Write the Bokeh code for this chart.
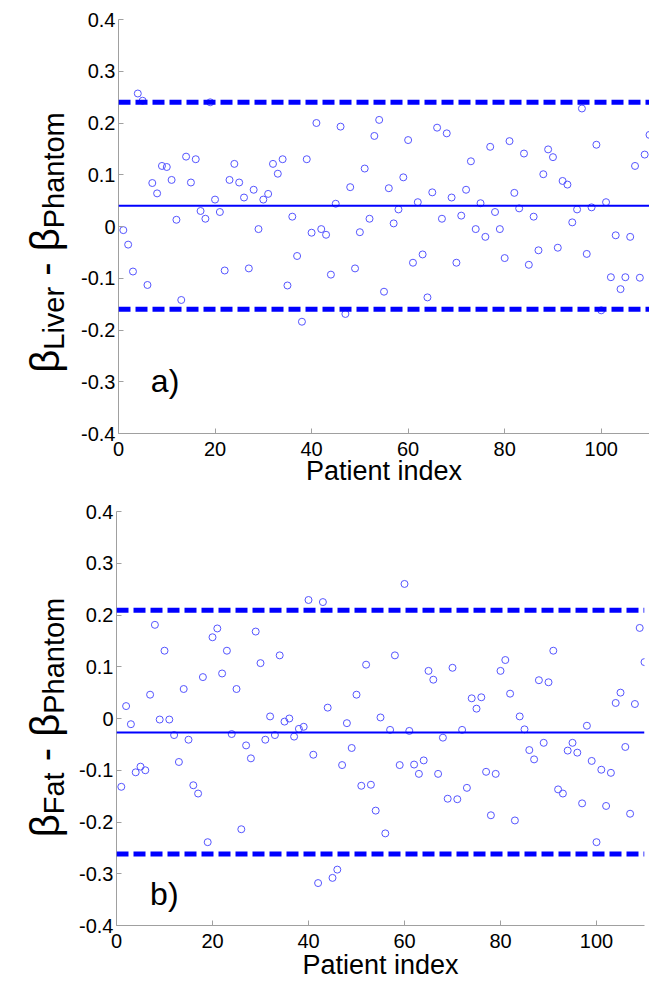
import math
from bokeh.plotting import figure
from bokeh.models import Range1d, FixedTicker, Span, Label, CustomJSTickFormatter, ColumnDataSource
from bokeh.layouts import column, row
from bokeh.embed import file_html
from bokeh.resources import INLINE
from bokeh.core.properties import value

# ---------------- data ----------------
patient_index = list(range(1, 111))

liver_diff = [
    -0.007, -0.035, -0.087, 0.257, 0.243, -0.113, 0.084, 0.064, 0.117, 0.115,
    0.090, 0.013, -0.142, 0.135, 0.085, 0.130, 0.030, 0.015, 0.240, 0.052,
    0.028, -0.085, 0.090, 0.121, 0.085, 0.056, -0.081, 0.071, -0.005, 0.052,
    0.063, 0.121, 0.102, 0.130, -0.114, 0.019, -0.057, -0.184, 0.130, -0.012,
    0.200, -0.005, -0.016, -0.093, 0.044, 0.193, -0.169, 0.076, -0.081, -0.011,
    0.112, 0.015, 0.175, 0.206, -0.126, 0.074, 0.006, 0.033, 0.095, 0.167,
    -0.070, 0.047, -0.054, -0.137, 0.066, 0.191, 0.015, 0.180, 0.056, -0.070,
    0.021, 0.071, 0.126, -0.005, 0.045, -0.020, 0.154, 0.028, -0.005, -0.061,
    0.165, 0.065, 0.035, 0.141, -0.074, 0.019, -0.046, 0.101, 0.149, 0.134,
    -0.041, 0.088, 0.081, 0.008, 0.033, 0.228, -0.053, 0.037, 0.158, -0.162,
    0.047, -0.098, -0.017, -0.121, -0.098, -0.020, 0.117, -0.099, 0.139, 0.177,
]

fat_diff = [
    -0.132, 0.024, -0.011, -0.104, -0.093, -0.100, 0.046, 0.181, -0.002, 0.131,
    -0.002, -0.032, -0.084, 0.057, -0.041, -0.129, -0.145, 0.080, -0.239, 0.157,
    0.174, 0.087, 0.131, -0.030, 0.057, -0.214, -0.052, -0.077, 0.168, 0.107,
    -0.041, 0.004, -0.032, 0.122, -0.006, 0.000, -0.035, -0.020, -0.016, 0.229,
    -0.070, -0.318, 0.225, 0.021, -0.308, -0.292, -0.090, -0.009, -0.057, 0.046,
    -0.130, 0.104, -0.128, -0.178, 0.002, -0.222, -0.022, 0.122, -0.090, 0.260,
    -0.024, -0.089, -0.107, -0.081, 0.092, 0.075, -0.107, -0.037, -0.155, 0.098,
    -0.156, -0.022, -0.134, 0.039, 0.019, 0.041, -0.103, -0.187, -0.107, 0.092,
    0.113, 0.048, -0.197, 0.004, -0.021, -0.061, -0.079, 0.074, -0.047, 0.070,
    0.131, -0.137, -0.145, -0.062, -0.047, -0.066, -0.164, -0.014, -0.082, -0.239,
    -0.099, -0.169, -0.105, 0.030, 0.050, -0.055, -0.184, 0.028, 0.175, 0.109,
]

liver_lines = [0.040, 0.240, -0.160]   # mean, upper limit, lower limit
fat_lines = [-0.027, 0.209, -0.262]    # mean, upper limit, lower limit

x_ticks = [0, 20, 40, 60, 80, 100]
y_ticks = [-0.4, -0.3, -0.2, -0.1, 0, 0.1, 0.2, 0.3, 0.4]
x_title = "Patient index"
panel_tags = ["a)", "b)"]
subscripts = ["Liver", "Fat"]

# ---------------- helpers ----------------
FONT = "Liberation Sans"
AXIS_GREY = "#a0a0a0"
WIDTHS = {"β": 0.575, "L": 0.556, "i": 0.222, "v": 0.5, "e": 0.556, "r": 0.333,
          "F": 0.611, "a": 0.556, "t": 0.278, "P": 0.667, "h": 0.556, "n": 0.556,
          "o": 0.556, "m": 0.833, " ": 0.278, "-": 0.333}
LAB_W = 70   # width of the strip that carries the rotated y title


def text_w(s, size):
    return sum(WIDTHS.get(c, 0.55) for c in s) * size


def make_panel(values, lines, tag, geom):
    p = figure(frame_width=geom["fw"], frame_height=geom["fh"],
               min_border_left=geom["bl"], min_border_right=geom["br"],
               min_border_top=geom["bt"], min_border_bottom=geom["bb"],
               x_range=Range1d(0, 110), y_range=Range1d(-0.4, 0.4),
               output_backend="svg", toolbar_location=None,
               background_fill_color="white", border_fill_color="white")
    p.outline_line_color = None
    p.xgrid.visible = False
    p.ygrid.visible = False

    for ax in (p.xaxis, p.yaxis):
        ax.axis_line_color = AXIS_GREY
        ax.major_tick_line_color = AXIS_GREY
        ax.major_tick_in = 5
        ax.major_tick_out = 0
        ax.minor_tick_line_color = None
        ax.major_label_text_font = FONT
        ax.major_label_text_font_size = "20px"
        ax.major_label_text_color = "black"
    p.xaxis.ticker = FixedTicker(ticks=x_ticks)
    p.yaxis.ticker = FixedTicker(ticks=y_ticks)
    p.xaxis.major_label_standoff = 8
    p.yaxis.major_label_standoff = 3
    p.yaxis.formatter = CustomJSTickFormatter(
        code="const v = Math.round(tick*10)/10; return v === 0 ? '0' : v.toString();")

    p.xaxis.axis_label = x_title
    p.xaxis.axis_label_text_font = FONT
    p.xaxis.axis_label_text_font_size = "27px"
    p.xaxis.axis_label_text_font_style = "normal"
    p.xaxis.axis_label_text_color = "black"
    p.xaxis.axis_label_standoff = geom["xls"]

    mean, upper, lower = lines
    p.add_layout(Span(location=mean, dimension="width", line_color="#0000ff", line_width=2))
    for loc in (upper, lower):
        p.add_layout(Span(location=loc, dimension="width", line_color="#0000ff",
                          line_width=5, line_dash="12 5"))

    src = ColumnDataSource(dict(x=patient_index, y=values))
    p.scatter("x", "y", source=src, marker="circle", size=7, fill_color=None,
              line_color="#5555ff", line_width=1)

    p.add_layout(Label(x=geom["tag_x"], y=geom["tag_y"], text=tag,
                       text_font=FONT, text_font_size="32px",
                       text_align="left", text_baseline="middle", text_color="black"))
    return p


def make_ytitle(sub, height, center_y, beta_x, sub_x):
    q = figure(frame_width=LAB_W, frame_height=height, min_border=0,
               x_range=Range1d(0, LAB_W), y_range=Range1d(0, height),
               x_axis_location=None, y_axis_location=None,
               output_backend="svg", toolbar_location=None,
               background_fill_color="white", border_fill_color="white")
    q.outline_line_color = None
    q.grid.visible = False
    F, f = 40, 29
    gap = WIDTHS[" "] * F
    # (text, font size, baseline x, extra space after)
    pieces = [("β", F, beta_x, 0), (sub, f, sub_x, gap), ("-", F, beta_x, gap),
              ("β", F, beta_x, 0), ("Phantom", f, sub_x, 0)]
    total = sum(text_w(s, sz) + g for s, sz, _, g in pieces)
    pos = (height - center_y) - total / 2
    for s, sz, bx, g in pieces:
        q.text(x=[bx], y=[pos], text=[s], angle=math.pi / 2,
               text_font=value(FONT), text_font_size=value(f"{sz}px"),
               text_align="left", text_baseline="alphabetic", text_color="black")
        pos += text_w(s, sz) + g
    return q


geom_a = dict(fw=531, fh=414, bl=48, br=0, bt=19, bb=62, xls=-3,
              tag_x=6.7, tag_y=-0.298)
geom_b = dict(fw=528, fh=414, bl=46, br=5, bt=16, bb=55, xls=-1,
              tag_x=7.0, tag_y=-0.34)
H_a = geom_a["bt"] + geom_a["fh"] + geom_a["bb"]
H_b = geom_b["bt"] + geom_b["fh"] + geom_b["bb"]

p1 = make_panel(liver_diff, liver_lines, panel_tags[0], geom_a)
p2 = make_panel(fat_diff, fat_lines, panel_tags[1], geom_b)
t1 = make_ytitle(subscripts[0], H_a, 223, 44, 53)
t2 = make_ytitle(subscripts[1], H_b, 701 - H_a, 44, 53)

layout = column(row(t1, p1, spacing=0), row(t2, p2, spacing=0), spacing=0)
open("out.html", "w").write(file_html(layout, INLINE))
